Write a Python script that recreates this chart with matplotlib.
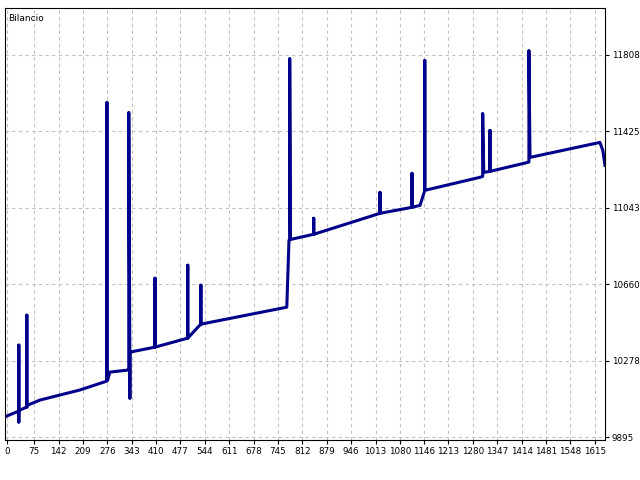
import matplotlib
matplotlib.use("Agg")
import matplotlib.pyplot as plt

x_vals = [0, 33, 33, 33, 33, 36, 55, 55, 55, 58, 91, 200, 275, 275, 275, 277,
          283, 332, 335, 335, 338, 338, 338, 407, 407, 407, 497, 497, 497, 530,
          533, 533, 533, 769, 775, 777, 777, 779, 843, 843, 843, 1025, 1025, 1025,
          1113, 1113, 1113, 1135, 1148, 1148, 1148, 1299, 1307, 1307, 1310,
          1327, 1327, 1327, 1431, 1434, 1434, 1437, 1629, 1637, 1643]
y_vals = [10000, 10025, 10355, 9970, 10025, 10030, 10045, 10505, 10045, 10055,
          10080, 10130, 10175, 11570, 10180, 10180, 10220, 10230, 10232, 11520,
          10235, 10090, 10320, 10345, 10690, 10345, 10390, 10755, 10390, 10455,
          10457, 10655, 10460, 10545, 10880, 10882, 11790, 10884, 10910, 10990,
          10910, 11015, 11120, 11015, 11045, 11215, 11045, 11055, 11130, 11780,
          11130, 11195, 11200, 11515, 11220, 11225, 11430, 11225, 11270, 11272,
          11830, 11295, 11370, 11330, 11255]

xticks = [0, 75, 142, 209, 276, 343, 410, 477, 544, 611, 678, 745, 812, 879,
          946, 1013, 1080, 1146, 1213, 1280, 1347, 1414, 1481, 1548, 1615]
yticks = [9895, 10278, 10660, 11043, 11425, 11808]

fig = plt.figure(figsize=(6.4, 4.8), dpi=100)
ax = fig.add_axes([5/640, 40/480, 600/640, 432/480])
ax.plot(x_vals, y_vals, color="#00008B", lw=2.2)
ax.set_xlim(-5, 1643)
ax.set_ylim(9880, 12043)
ax.set_xticks(xticks)
ax.set_xticklabels([str(t) for t in xticks], fontsize=6.3)
ax.set_yticks(yticks)
ax.set_yticklabels([str(t) for t in yticks], fontsize=6.3)
ax.yaxis.tick_right()
ax.tick_params(length=3, pad=2)
ax.grid(True, color="#c0c0c0", linestyle=(0, (3, 3)), lw=0.8)
ax.text(0.005, 0.985, "Bilancio", transform=ax.transAxes, fontsize=6.5, va="top", ha="left")
fig.savefig("out.png", dpi=100)
